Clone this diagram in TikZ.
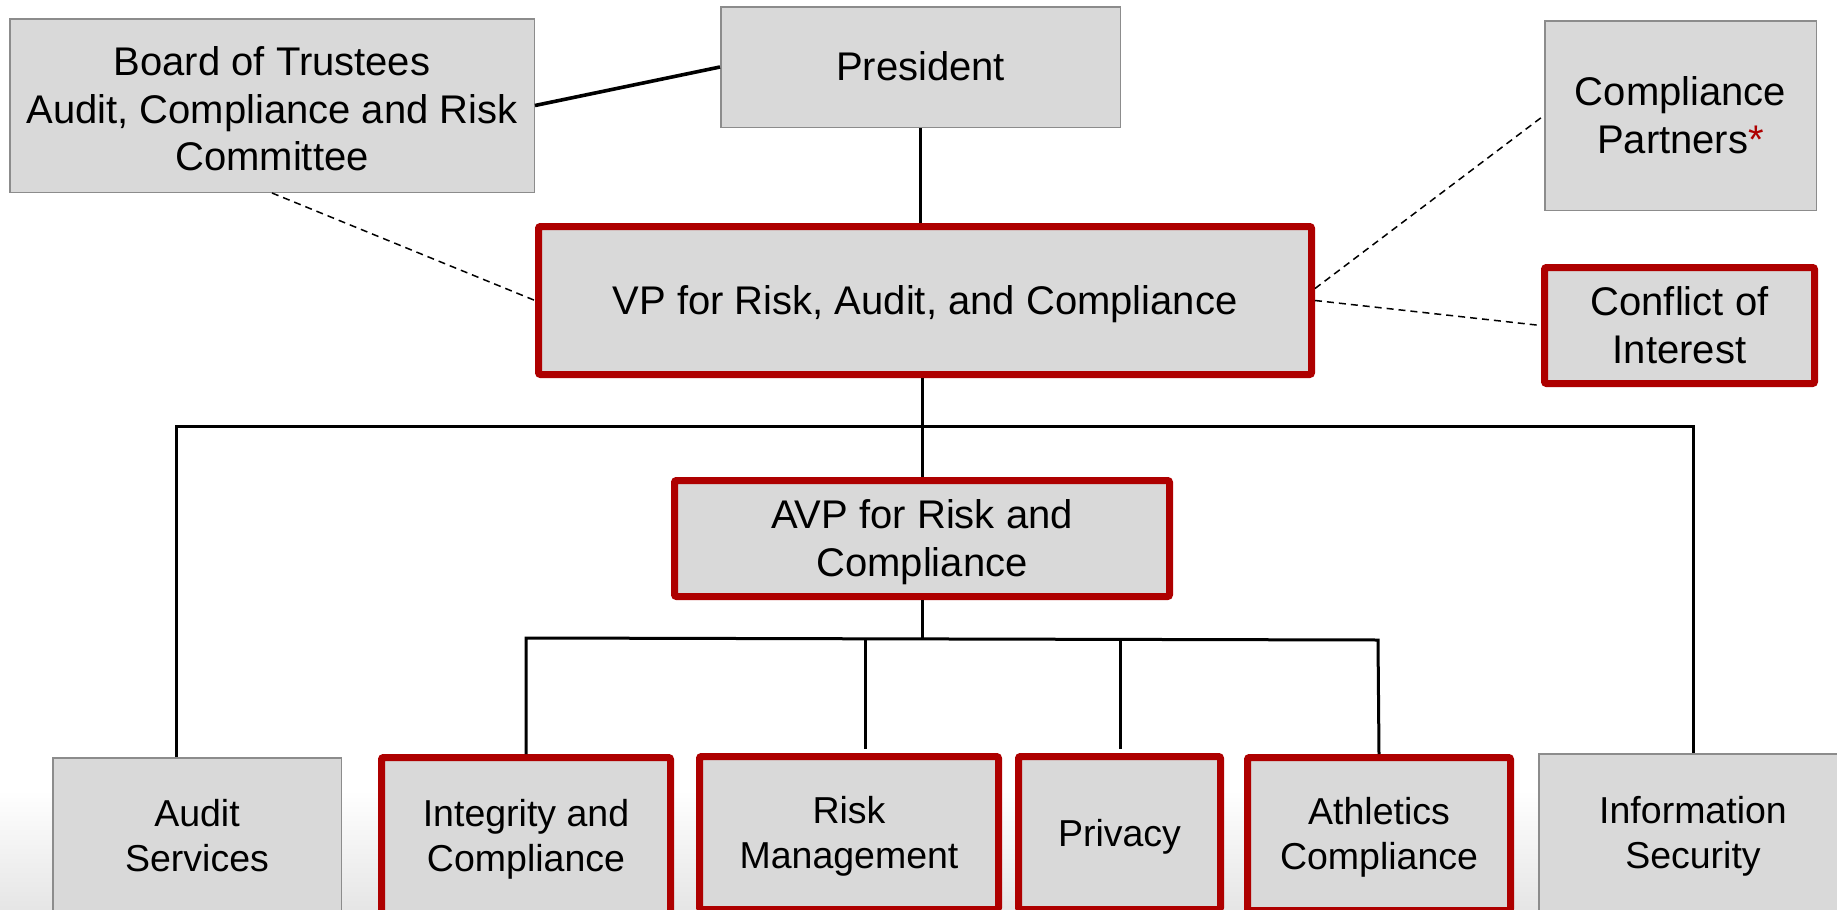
\documentclass[tikz,border=0pt]{standalone}
\usepackage{fontspec}
\setmainfont{Liberation Sans}
\definecolor{boxfill}{HTML}{D9D9D9}
\definecolor{boxgray}{HTML}{8C8C8C}
\definecolor{boxred}{HTML}{AE0000}
\newcommand\lsx{\rule[-0.212em]{0pt}{1.117em}}
\newcommand\lsxtall{\rule[-0.212em]{0pt}{1.3em}}
\begin{document}
\begin{tikzpicture}[x=1pt,y=1pt,
  base/.style={fill=boxfill, align=center, inner sep=0pt, font=\fontsize{40}{47.5}\selectfont},
  smalltext/.style={font=\fontsize{37.5}{45.5}\selectfont},
  graybox/.style={base, draw=boxgray, line width=1.5pt},
  redbox/.style={base, draw=boxred, line width=7pt, rounded corners=2pt},
  link/.style={line width=3pt},
  boldlink/.style={line width=3.6pt},
  dotlink/.style={line width=1.5pt, dash pattern=on 7pt off 5pt}]
\clip (0,0) rectangle (1837,-910);
\shade[top color=white, bottom color=black!10] (0,-790) rectangle (1837,-910);

\node[graybox, minimum width=524.5, minimum height=173.5] (board) at (272,-105.5)
  {\lsxtall Board of Trustees\\Audit, Compliance and Risk\\Committee\lsx};
\node[graybox, minimum width=399.5, minimum height=120.5] (pres) at (920.5,-67) {\lsx President};
\node[graybox, minimum width=271.5, minimum height=189.5] (cp) at (1680.5,-115.5)
  {\lsx Compliance\\Partners\textcolor{boxred}{*}\lsx};
\node[redbox, minimum width=773, minimum height=148] (vp) at (925,-300.5)
  {\lsx VP for Risk, Audit, and Compliance};
\node[redbox, minimum width=270, minimum height=116] (coi) at (1679.5,-325.5)
  {\lsx Conflict of\\Interest\lsx};
\node[redbox, minimum width=495, minimum height=116] (avp) at (922,-538.5)
  {\lsx AVP for Risk and\\Compliance\lsx};

\node[graybox, smalltext, minimum width=288.5, minimum height=156.5] (audit) at (197,-836) {\lsx Audit\\Services\lsx};
\node[redbox, smalltext, minimum width=289, minimum height=157] (integ) at (526,-836) {\lsx Integrity and\\Compliance\lsx};
\node[redbox, smalltext, minimum width=299, minimum height=153] (risk) at (849,-833) {\lsx Risk\\Management\lsx};
\node[redbox, smalltext, minimum width=202, minimum height=153] (priv) at (1119.5,-833) {\lsx Privacy};
\node[redbox, smalltext, minimum width=263, minimum height=153] (ath) at (1379,-834) {\lsx Athletics\\Compliance\lsx};
\node[graybox, smalltext, minimum width=308, minimum height=158] (infosec) at (1693,-833) {\lsx Information\\Security\lsx};

\coordinate (busL) at (176,-426);
\coordinate (busR) at (1693,-426);
\coordinate (bus2L) at (526,-638);
\coordinate (bus2R) at (1378,-640);
\coordinate (riskTop) at (865,-749);
\coordinate (privTop) at (1120,-749);

\draw[boldlink] (board.east) -- (pres.west);
\draw[link] (pres.south) -- (pres.south |- vp.north);
\draw[dotlink] (board.south) -- (vp.west);
\draw[dotlink] ([yshift=12pt]vp.east) -- (cp.west);
\draw[dotlink] (vp.east) -- (coi.west);
\draw[link] (avp.north) -- (avp.north |- vp.south);
\draw[link] (busL |- audit.north) -- (busL) -- (busR) -- (busR |- infosec.north);
\draw[link] (avp.south) -- (avp.south |- bus2L);
\draw[link] (integ.north) -- (bus2L) -- (bus2R) -- (ath.north);
\draw[link] (riskTop) -- (riskTop |- bus2L);
\draw[link] (privTop) -- (privTop |- bus2R);
\end{tikzpicture}
\end{document}
